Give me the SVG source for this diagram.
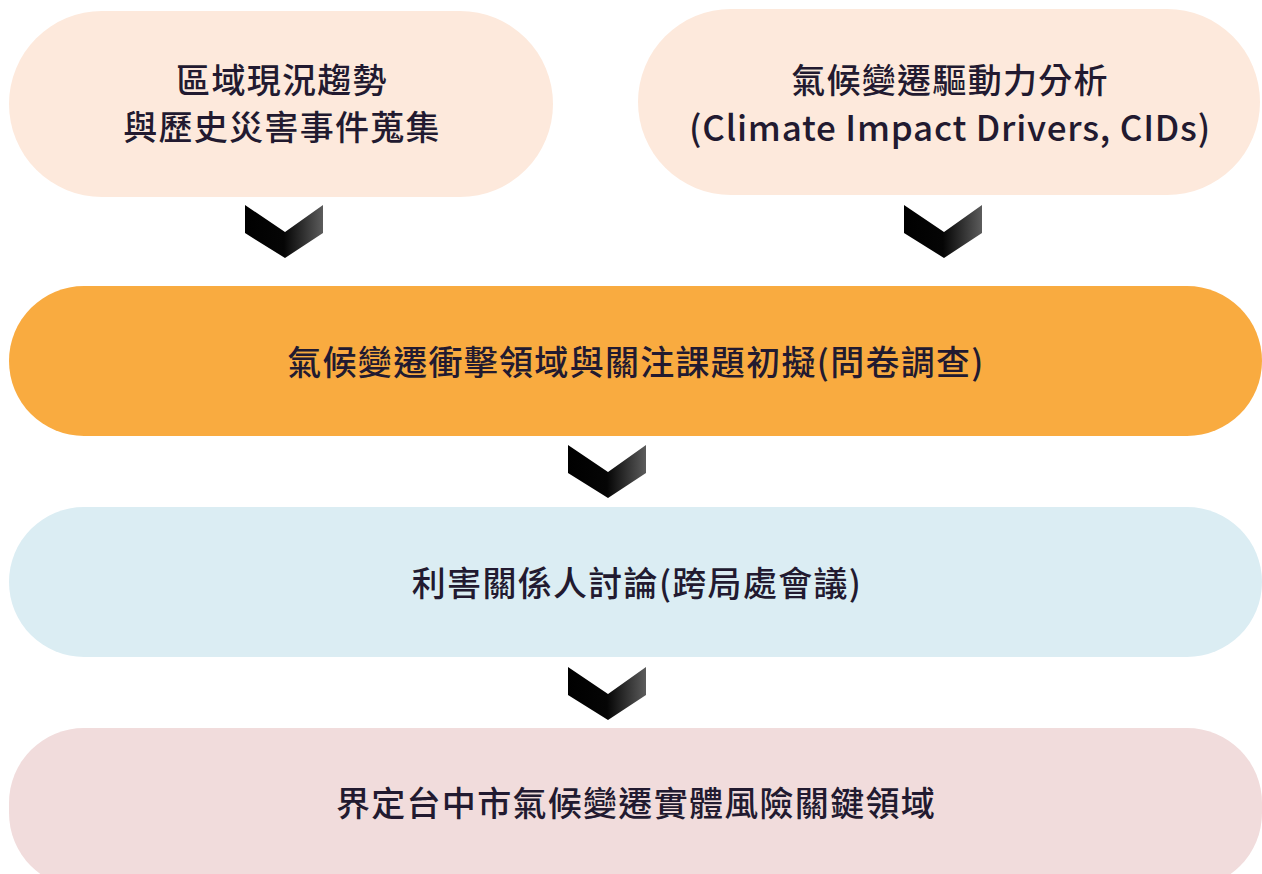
<svg xmlns="http://www.w3.org/2000/svg" width="1262" height="874" viewBox="0 0 1262 874">
<defs>
<linearGradient id="chev" x1="0" y1="0" x2="1" y2="0">
<stop offset="0" stop-color="#000"/>
<stop offset="0.5" stop-color="#050505"/>
<stop offset="1" stop-color="#5c5c5c"/>
</linearGradient>
<path id="chevron" d="M0,0 L40,27 L78,0 L78,28 L40,53 L0,28 Z" fill="url(#chev)"/>
</defs>
<style>
text{font-family:"Noto Sans CJK TC","Noto Sans","Noto Sans CJK SC",sans-serif;font-weight:500;fill:#221a30;text-anchor:middle;dominant-baseline:central}
.t{font-size:34px;letter-spacing:1.3px}
.e{font-size:35px;letter-spacing:0.8px}
</style>
<rect width="1262" height="874" fill="#ffffff"/>
<g id="node-history">
<rect x="9" y="11" width="544" height="186" rx="93" fill="#fde9dc"/>
<text class="t" x="282" y="78">區域現況趨勢</text>
<text class="t" x="282" y="125">與歷史災害事件蒐集</text>
</g>
<g id="node-cids">
<rect x="638" y="9" width="622" height="186" rx="93" fill="#fde9dc"/>
<text class="t" x="950" y="78">氣候變遷驅動力分析</text>
<text class="e" x="950" y="125">(Climate Impact Drivers, CIDs)</text>
</g>
<g id="node-survey">
<rect x="9" y="286" width="1253" height="150" rx="75" fill="#f9ab40"/>
<text class="t" x="636" y="360">氣候變遷衝擊領域與關注課題初擬(問卷調查)</text>
</g>
<g id="node-stakeholder">
<rect x="9" y="507" width="1253" height="150" rx="75" fill="#dbedf3"/>
<text class="t" x="637" y="581">利害關係人討論(跨局處會議)</text>
</g>
<g id="node-define">
<rect x="9" y="728" width="1253" height="160" rx="75" fill="#f1dcdc"/>
<text class="t" x="636" y="801">界定台中市氣候變遷實體風險關鍵領域</text>
</g>
<g id="connectors">
<use href="#chevron" x="245" y="205"/>
<use href="#chevron" x="904" y="205"/>
<use href="#chevron" x="568" y="445"/>
<use href="#chevron" x="568" y="667"/>
</g>
</svg>
